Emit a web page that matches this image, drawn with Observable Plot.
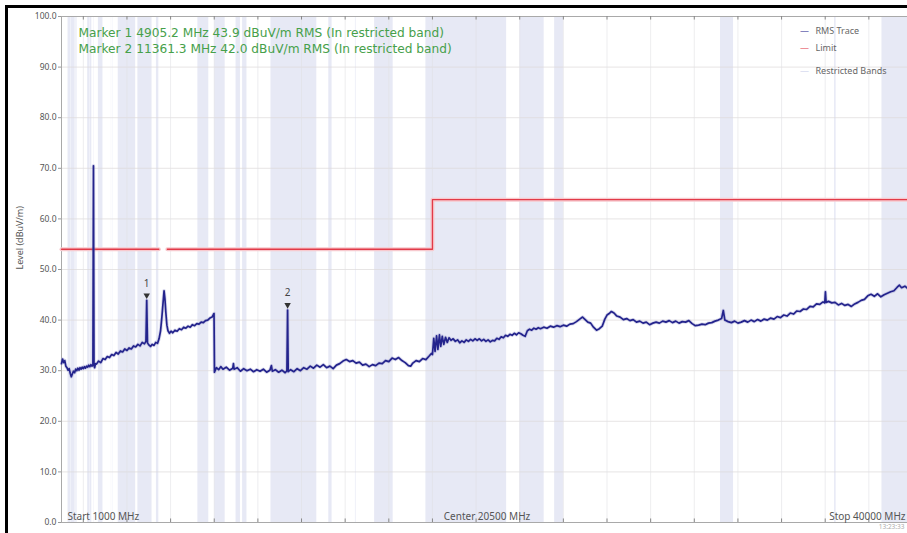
<!DOCTYPE html>
<html>
<head>
<meta charset="utf-8">
<script src="https://cdn.jsdelivr.net/npm/d3@7"></script>
<script src="https://cdn.jsdelivr.net/npm/@observablehq/plot@0.6"></script>
<style>
  body { margin: 0; background: #fff; }
  #wrap { position: relative; width: 907px; height: 533px; overflow: hidden; background: #fff; }
  #edge { position: absolute; left: 5px; top: 5px; right: -10px; bottom: -10px;
          border-left: 3px solid #000; border-top: 3px solid #000; pointer-events: none; }
  #wrap svg { display: block; }
</style>
</head>
<body>
<div id="wrap"><div id="edge"></div></div>
<script>
// Sweep 1000 – 40000 MHz, RMS detector, level in dBuV/m
const sweepStart = 1000, sweepCenter = 20500, sweepStop = 40000;

// FCC 15.205 restricted bands inside the sweep (MHz)
const bandStart = [1300, 1435, 1645.5, 1660, 1718.8, 2200, 2310, 2483.5, 2690, 3260, 3332, 3345.8, 3600, 4500, 5350, 7250, 8025, 9000, 9300, 10600, 13250, 14470, 15350, 17700, 22010, 23600, 31200, 36430, 38600];
const bandEnd   = [1427, 1626.5, 1646.5, 1710, 1722.2, 2300, 2390, 2500, 2900, 3267, 3339, 3358, 4400, 5150, 5460, 7750, 8500, 9200, 9500, 12700, 13400, 14500, 16200, 21400, 23120, 24000, 31800, 36500, 40000];

// Limit line, drawn as separate segments
const limitMHz   = [1000, 5460, 5850, 18000, 18000, 40000];
const limitLevel = [54, 54, 54, 54, 63.8, 63.8];
const limitSeg   = [0, 0, 1, 1, 1, 1];

// Markers
const markerName  = ["1", "2"];
const markerMHz   = [4905.2, 11361.3];
const markerLevel = [43.9, 42.0];

// RMS trace [MHz, dBuV/m]
const tracePoints = [
  [1000,31.4],[1050,32.3],[1100,31.6],[1150,32.0],[1200,30.9],[1250,30.6],[1300,30.1],[1350,30.4],[1400,29.5],[1450,28.8],
  [1500,29.4],[1550,29.9],[1600,29.6],[1650,30.3],[1700,30.0],[1750,30.5],[1800,30.1],[1850,30.6],[1900,30.3],[1950,30.7],
  [2000,30.4],[2050,30.8],[2100,30.5],[2150,30.9],[2200,30.7],[2250,31.1],[2300,30.8],[2350,31.2],[2400,30.9],[2440,31.2],
  [2465,70.5],[2490,31.0],[2520,30.6],[2560,31.4],
  [2600,31.3],[2700,31.9],[2800,31.6],[2900,32.4],[3000,32.2],[3100,32.8],[3200,32.6],[3300,33.2],[3400,33.0],[3500,33.6],
  [3600,33.3],[3700,33.9],[3800,33.7],[3900,34.3],[4000,34.0],[4100,34.5],[4200,34.3],[4300,34.9],[4400,34.7],[4500,35.2],
  [4600,34.9],[4700,35.6],[4800,35.3],[4870,35.8],[4940,35.5],[5000,35.1],[5080,34.8],[5160,35.2],[5240,35.0],
  [5320,35.6],[5400,35.4],[5470,36.3],[5540,37.9],[5600,40.6],[5650,43.2],[5700,45.8],[5740,44.2],[5780,41.6],[5830,39.0],
  [5880,37.9],[5950,37.4],[6020,37.8],
  [6100,37.5],[6200,38.0],[6300,37.8],[6400,38.3],[6500,38.1],[6600,38.6],[6700,38.4],[6800,38.8],[6900,38.6],[7000,39.1],
  [7100,38.9],[7200,39.3],[7300,39.2],[7400,39.6],[7500,39.5],[7600,39.9],[7700,40.0],[7800,40.4],[7900,40.6],[7960,41.1],
  [7990,41.3],[8010,29.7],
  [8100,30.6],[8200,30.2],[8300,30.8],[8400,30.3],[8550,30.7],[8700,30.1],[8850,30.5],[8880,31.4],[8910,30.3],[9050,30.6],
  [9200,29.9],[9350,30.4],[9500,30.0],[9650,30.3],[9800,29.8],[9950,30.2],[10100,29.9],[10250,30.3],[10400,29.7],[10550,30.1],
  [10620,31.0],[10660,29.9],[10800,30.2],[10950,29.7],[11100,30.1],[11250,29.6],[11330,30.0],[11390,29.8],
  [11500,30.2],[11650,29.8],[11800,30.4],[11950,30.0],[12100,30.6],[12250,30.3],[12400,30.9],[12550,30.5],[12700,31.1],[12850,30.7],
  [13000,31.2],[13150,30.6],[13300,30.9],[13450,30.4],[13600,31.1],[13750,31.4],[13900,31.9],[14050,32.2],[14200,31.8],[14350,32.0],
  [14500,31.5],[14650,31.7],[14800,31.1],[14950,31.3],[15100,30.8],[15250,31.2],[15400,31.0],[15550,31.5],[15700,31.4],[15850,32.0],
  [16000,31.8],[16150,32.5],[16300,32.2],[16450,32.6],[16600,32.0],[16750,31.6],[16900,31.0],[17000,30.9],[17100,31.5],[17250,32.0],
  [17400,31.8],[17550,32.4],[17700,32.2],[17850,32.9],[17950,33.4],
  [18000,33.2],[18060,36.4],[18120,33.8],[18190,36.9],[18250,34.2],[18320,37.1],[18380,34.8],[18450,36.8],[18520,35.2],[18600,36.6],
  [18680,35.6],[18760,36.5],[18850,36.0],[18950,36.3],[19050,35.8],[19150,36.1],[19250,35.5],[19350,35.9],[19450,35.6],[19550,36.1],
  [19650,35.8],[19750,36.2],[19850,35.9],[19950,36.3],[20050,36.0],[20150,36.3],[20250,35.9],[20350,36.2],[20450,35.8],[20550,36.1],
  [20650,35.7],[20750,36.0],[20850,35.9],[20950,36.4],[21050,36.2],[21150,36.7],[21250,36.5],[21350,37.0],[21450,36.8],[21550,37.2],
  [21650,37.0],[21750,37.4],[21850,37.1],[21950,37.5],[22050,37.3],[22150,37.0],[22250,36.8],[22350,37.9],[22450,38.2],[22550,38.0],
  [22650,38.4],[22750,38.2],[22850,38.5],[22950,38.3],[23100,38.6],[23250,38.4],[23400,38.8],[23550,38.6],[23700,38.9],[23850,38.7],
  [24000,39.0],[24150,38.8],[24300,39.2],[24450,39.3],[24600,39.7],[24750,40.2],[24880,40.6],[25000,40.1],[25120,39.6],[25250,39.4],
  [25380,38.6],[25520,38.0],[25650,38.3],[25780,38.8],[25900,40.2],[26000,41.0],[26100,41.3],[26200,41.7],[26320,41.4],[26450,40.8],
  [26600,40.6],[26750,40.1],[26900,40.3],[27050,39.9],[27200,40.1],[27350,39.6],[27500,39.8],[27650,39.4],[27800,39.6],[27950,39.1],
  [28100,39.4],[28250,39.6],[28400,39.4],[28550,39.8],[28700,39.6],[28850,39.9],[29000,39.5],[29150,39.8],[29300,39.4],[29450,39.7],
  [29600,39.6],[29750,39.9],[29900,39.3],[30050,38.9],[30200,39.0],[30350,39.2],[30500,39.1],[30650,39.4],[30800,39.5],[30950,39.8],
  [31100,40.0],[31250,40.3],[31330,41.9],[31400,40.0],[31550,39.7],[31700,39.5],[31850,39.8],[32000,39.4],[32150,39.6],[32300,39.9],
  [32450,39.6],[32600,40.0],[32750,39.7],[32900,40.1],[33050,39.8],[33200,40.2],[33350,40.0],[33500,40.4],[33650,40.2],[33800,40.7],
  [33950,40.5],[34100,41.0],[34250,40.8],[34400,41.4],[34550,41.2],[34700,41.8],[34850,41.7],[35000,42.2],[35150,42.1],[35300,42.7],
  [35450,42.6],[35600,43.2],[35750,43.1],[35900,43.6],[35980,43.4],[36010,45.6],[36040,43.5],[36150,43.7],[36300,43.4],[36450,43.5],
  [36600,43.0],[36750,43.3],[36900,42.9],[37050,43.1],[37200,42.7],[37350,43.2],[37500,43.5],[37650,43.9],[37800,44.1],[37950,44.8],
  [38100,45.1],[38250,44.7],[38400,45.2],[38550,44.6],[38700,45.0],[38850,45.3],[39000,45.6],[39150,45.8],[39300,46.5],[39400,46.9],
  [39500,46.4],[39650,46.7],[39800,46.2],[39900,46.6],[40000,46.3]
];

// Axis ticks
const xTicks = [2000,4000,6000,8000,10000,12000,14000,16000,18000,20000,22000,24000,26000,28000,30000,32000,34000,36000,38000,40000];
const yTicks = [0,10,20,30,40,50,60,70,80,90,100];

// Legend
const legendLabels = ["RMS Trace", "Limit", "Restricted Bands"];
const legendColors = ["#23238c", "#e23a48", "#c9cdea"];

// Build tables
const bands = bandStart.map((s, i) => ({start: s, end: bandEnd[i]}));
const limit = limitMHz.map((f, i) => ({f, level: limitLevel[i], seg: limitSeg[i]}));
const markers = markerMHz.map((f, i) => ({name: markerName[i], f, level: markerLevel[i]}));
const trace = tracePoints.map(([f, level]) => ({f, level}))
  .concat(markers.map(m => ({f: m.f, level: m.level})))
  .sort((a, b) => a.f - b.f);

const markerText = markers.map(m =>
  `Marker ${m.name} ${m.f.toFixed(1)} MHz ${m.level.toFixed(1)} dBuV/m RMS (In restricted band)`);

const font = "'Noto Sans', 'Open Sans', sans-serif";
const green = "#46a04a";

const legendRows = [15, 32, 55];

const chart = Plot.plot({
  width: 907,
  height: 533,
  marginLeft: 61,
  marginRight: -5,
  marginTop: 16,
  marginBottom: 11,
  style: {fontFamily: font, background: "transparent"},
  x: {domain: [sweepStart, sweepStop], axis: null},
  y: {domain: [0, 100], axis: null},
  marks: [
    // restricted bands
    Plot.rect(bands, {x1: "start", x2: "end", fill: "#e7e9f5"}),
    // grid
    Plot.gridY(yTicks, {stroke: "#dcdada", strokeOpacity: 1, strokeWidth: 0.7}),
    Plot.gridX(xTicks, {stroke: "#e0e0e4", strokeOpacity: 1, strokeWidth: 0.6}),
    Plot.frame({stroke: "#a9a9a9"}),
    // ticks on bottom and top edges
    Plot.ruleX(xTicks, {y1: 0, y2: 0.7, stroke: "#888"}),
    Plot.ruleX(xTicks, {y1: 99.3, y2: 100, stroke: "#888"}),
    Plot.axisY(yTicks, {
      tickSize: 3, tickPadding: 2, stroke: "#999", fill: "#555", fontSize: 8.5,
      tickFormat: d => d.toFixed(1), label: null
    }),
    // limit with soft halo
    Plot.line(limit, {x: "f", y: "level", z: "seg", stroke: "#f7c9ce", strokeWidth: 4}),
    Plot.line(limit, {x: "f", y: "level", z: "seg", stroke: "#e23a48", strokeWidth: 1.3}),
    // RMS trace
    Plot.line(trace, {x: "f", y: "level", stroke: "#8d8dc9", strokeWidth: 3.4, strokeOpacity: 0.35, strokeLinejoin: "round"}),
    Plot.line(trace, {x: "f", y: "level", stroke: "#23238c", strokeWidth: 1.7, strokeLinejoin: "round"}),
    // markers
    Plot.dot(markers, {x: "f", y: "level", symbol: "triangle", rotate: 180, r: 2.4, fill: "#333", stroke: "none", dy: -5}),
    Plot.text(markers, {x: "f", y: "level", text: "name", dy: -17, fontSize: 10, fill: "#444"}),
    // marker readouts
    ...markerText.map((t, i) => Plot.text([t], {
      frameAnchor: "top-left", textAnchor: "start", lineAnchor: "middle",
      dx: 17, dy: 17 + i * 16, fontSize: 12.2, fontFamily: "'DejaVu Sans', sans-serif", fill: green
    })),
    // legend
    ...legendLabels.map((t, i) => Plot.text([t], {
      frameAnchor: "top-left", textAnchor: "start", lineAnchor: "middle",
      dx: 754, dy: legendRows[i], fontSize: 9, fill: "#666"
    })),
    ...legendColors.map((c, i) => Plot.text(["\u2014"], {
      frameAnchor: "top-left", textAnchor: "middle", lineAnchor: "middle",
      dx: 743, dy: legendRows[i], fontSize: 9, fill: c
    })),
    // sweep annotations
    Plot.text([`Start ${sweepStart} MHz`], {frameAnchor: "bottom-left", textAnchor: "start", lineAnchor: "bottom", dx: 6, dy: -3, fontSize: 10, fill: "#555"}),
    Plot.text([`Center ${sweepCenter} MHz`], {frameAnchor: "bottom", textAnchor: "middle", lineAnchor: "bottom", dy: -3, fontSize: 10, fill: "#555"}),
    Plot.text([`Stop ${sweepStop} MHz`], {frameAnchor: "bottom-right", textAnchor: "end", lineAnchor: "bottom", dx: -7, dy: -3, fontSize: 10, fill: "#555"}),
    Plot.text(["13:23:33"], {frameAnchor: "bottom-right", textAnchor: "end", lineAnchor: "top", dx: -8, dy: 2, fontSize: 6.5, fill: "#aaa"}),
    // y title
    Plot.text(["Level (dBuV/m)"], {frameAnchor: "left", rotate: -90, dx: -41, fontSize: 9, fill: "#555"})
  ]
});

document.getElementById("wrap").appendChild(chart);
</script>
</body>
</html>
